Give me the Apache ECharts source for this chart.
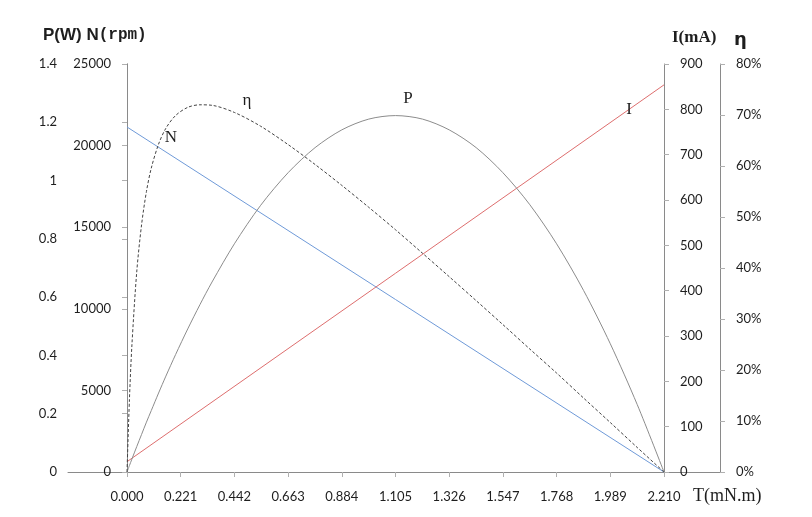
<!DOCTYPE html>
<html>
<head>
<meta charset="utf-8">
<script src="https://cdn.jsdelivr.net/npm/echarts@6/dist/echarts.min.js"></script>
<style>html,body{margin:0;padding:0;background:#fff}#c{width:812px;height:517px}</style>
</head>
<body>
<div id="c"></div>
<script>
// Torque samples (mN.m) for curved series
const torque = [0, 0.01, 0.02, 0.04, 0.06, 0.08, 0.1, 0.13, 0.16, 0.2, 0.25, 0.3, 0.35, 0.442, 0.55, 0.663, 0.774, 0.884, 0.995, 1.105, 1.216, 1.326, 1.437, 1.547, 1.658, 1.768, 1.879, 1.989, 2.1, 2.21];
// Output power P (W)
const powerW = [0, 0.022, 0.044, 0.087, 0.129, 0.171, 0.211, 0.271, 0.329, 0.403, 0.491, 0.574, 0.652, 0.783, 0.915, 1.027, 1.113, 1.174, 1.211, 1.223, 1.211, 1.174, 1.113, 1.027, 0.917, 0.783, 0.623, 0.440, 0.231, 0];
// Efficiency η (fraction)
const efficiency = [0, 0.142, 0.247, 0.392, 0.485, 0.550, 0.596, 0.643, 0.674, 0.699, 0.715, 0.720, 0.719, 0.705, 0.678, 0.642, 0.603, 0.562, 0.519, 0.475, 0.429, 0.383, 0.336, 0.289, 0.241, 0.194, 0.145, 0.097, 0.048, 0];
// Straight-line series endpoints
const lineTorque = [0, 2.21];
const speedRpm = [21140, 0];
const currentMA = [22.7, 854];
// Axis tick settings
const xTickStep = 0.221;
const xMax = 2.21;
// Curve label anchors (data coordinates)
const labelN = [0.181, 20466];
const labelEta = [0.494, 0.729];
const labelP = [1.156, 1.283];
const labelI = [2.066, 798.6];

const zip = (xs, ys) => xs.map((x, i) => [x, ys[i]]);

const AX = '#8a8a8a';
const TICK = '#b0b0b0';
const TXT = '#1e1e1e';
const FONT = 'Lato, "Noto Sans", sans-serif';

function yAx(opts, fmt) {
  return Object.assign({
    type: 'value', gridIndex: 0,
    axisLine: { show: true, lineStyle: { color: AX, width: 1 } },
    axisTick: { show: true, length: 5, lineStyle: { color: TICK } },
    splitLine: { show: false },
    axisLabel: { color: TXT, fontSize: 13, fontFamily: FONT, margin: 16, formatter: fmt || (v => String(v)) }
  }, opts);
}

function markLabel(coord, text, size, family) {
  return {
    symbol: 'circle', symbolSize: 0,
    itemStyle: { color: 'transparent' },
    label: { show: true, position: 'inside', formatter: text, color: TXT, fontSize: size, fontFamily: family },
    data: [{ coord: coord }]
  };
}

const chart = echarts.init(document.getElementById('c'), null, { renderer: 'canvas' });
chart.setOption({
  backgroundColor: '#fff',
  animation: false,
  grid: [
    { left: 127, right: 148, top: 64, bottom: 45 },
    { left: 68, right: 92, top: 64, bottom: 45 }
  ],
  xAxis: [
    {
      type: 'value', gridIndex: 0, min: 0, max: xMax, interval: xTickStep,
      axisLine: { show: true, onZero: false, lineStyle: { color: AX } },
      axisTick: { show: true, length: 5, lineStyle: { color: TICK } },
      splitLine: { show: false },
      axisLabel: { color: TXT, fontSize: 13, fontFamily: FONT, margin: 18, formatter: v => v.toFixed(3) }
    },
    {
      type: 'value', gridIndex: 1, min: 0, max: 1,
      axisLine: { show: true, onZero: false, lineStyle: { color: AX } },
      axisTick: { show: false }, axisLabel: { show: false }, splitLine: { show: false }
    }
  ],
  yAxis: [
    yAx({ position: 'left', offset: 54, min: 0, max: 1.4, interval: 0.2 }),
    yAx({ position: 'left', offset: 0, min: 0, max: 25000, interval: 5000 }),
    yAx({ position: 'right', offset: 0, min: 0, max: 900, interval: 100 }),
    yAx({ position: 'right', offset: 56, min: 0, max: 0.8, interval: 0.1 }, v => Math.round(v * 100) + '%'),
    { type: 'value', gridIndex: 1, show: false, min: 0, max: 1 }
  ],
  graphic: [
    { type: 'text', x: 43, y: 35, style: { text: '{a|P(W) N}{b|(rpm)}', verticalAlign: 'middle', fill: TXT,
      rich: { a: { fontSize: 17, fontWeight: 'bold', fontFamily: '"Liberation Sans", Arial, sans-serif', fill: TXT },
              b: { fontSize: 16, fontWeight: 'bold', fontFamily: '"Liberation Mono", monospace', fill: TXT } } } },
    { type: 'text', x: 672, y: 38, style: { text: 'I(mA)', verticalAlign: 'middle', fill: TXT,
      font: 'bold 17px "Liberation Serif", serif' } },
    { type: 'text', x: 734, y: 40, style: { text: 'η', verticalAlign: 'middle', fill: TXT,
      font: 'bold 18px "DejaVu Sans", sans-serif' } },
    { type: 'text', x: 693, y: 496, style: { text: 'T(mN.m)', verticalAlign: 'middle', fill: TXT,
      font: '18px "Liberation Serif", serif' } }
  ],
  series: [
    {
      name: 'N', type: 'line', xAxisIndex: 0, yAxisIndex: 1, showSymbol: false, symbol: 'none',
      data: zip(lineTorque, speedRpm), lineStyle: { color: '#6f9ad8', width: 1 },
      markPoint: markLabel(labelN, 'N', 17, '"Liberation Serif", serif')
    },
    {
      name: 'I', type: 'line', xAxisIndex: 0, yAxisIndex: 2, showSymbol: false, symbol: 'none',
      data: zip(lineTorque, currentMA), lineStyle: { color: '#de6e6e', width: 1 },
      markPoint: markLabel(labelI, 'I', 17, '"Liberation Serif", serif')
    },
    {
      name: 'P', type: 'line', xAxisIndex: 0, yAxisIndex: 0, showSymbol: false, symbol: 'none', smooth: 0.3,
      data: zip(torque, powerW), lineStyle: { color: '#8c8c8c', width: 1 },
      markPoint: markLabel(labelP, 'P', 17, '"Liberation Serif", serif')
    },
    {
      name: 'η', type: 'line', xAxisIndex: 0, yAxisIndex: 3, showSymbol: false, symbol: 'none', smooth: 0.3,
      data: zip(torque, efficiency), lineStyle: { color: '#444', width: 1, type: [3, 2] },
      markPoint: markLabel(labelEta, 'η', 17, '"Liberation Serif", serif')
    }
  ]
});
</script>
</body>
</html>
